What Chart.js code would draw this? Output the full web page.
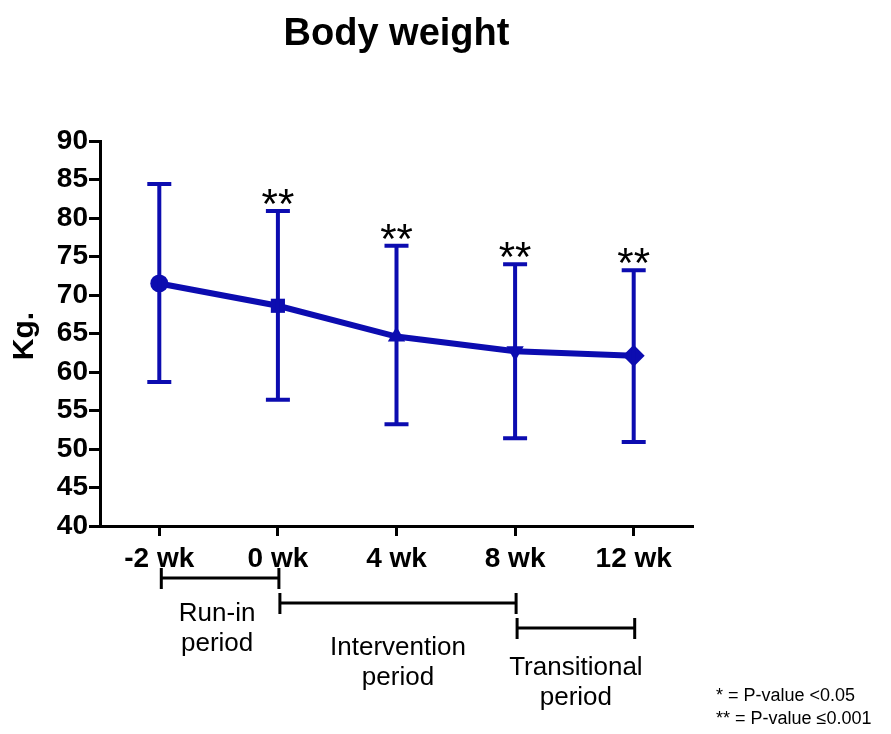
<!DOCTYPE html>
<html>
<head>
<meta charset="utf-8">
<script src="https://cdn.jsdelivr.net/npm/chart.js@4/dist/chart.umd.min.js"></script>
<style>
  html, body { margin: 0; padding: 0; background: #fff; }
  #wrap { width: 891px; height: 734px; position: relative; }
</style>
</head>
<body>
<div id="wrap"><canvas id="c" width="891" height="734"></canvas></div>
<script>
// Body weight over the study timeline (mean with SD bars)
const timepoints = ['-2 wk', '0 wk', '4 wk', '8 wk', '12 wk'];
const meanKg   = [71.5, 68.6, 64.6, 62.7, 62.1];
const upperKg  = [84.4, 80.9, 76.4, 74.0, 73.2];
const lowerKg  = [58.7, 56.4, 53.2, 51.4, 50.9];
const signif   = ['', '**', '**', '**', '**'];
const yTicks   = [40, 45, 50, 55, 60, 65, 70, 75, 80, 85, 90];

// Study periods spanning timepoint indices
const periods = [
  { from: 0, to: 1, level: 0, textGap: 36, lines: ['Run-in', 'period'] },
  { from: 1, to: 3, level: 1, textGap: 45, lines: ['Intervention', 'period'] },
  { from: 3, to: 4, level: 2, textGap: 40, lines: ['Transitional', 'period'] }
];

const footnotes = ['* = P-value <0.05', '** = P-value \u22640.001'];

const BLUE = '#0c0cb0';
const FONT = '"Liberation Sans", Arial, sans-serif';

const errorBars = {
  id: 'errorBars',
  afterDatasetsDraw(chart) {
    const { ctx, scales: { x, y } } = chart;
    ctx.save();
    ctx.strokeStyle = BLUE;
    ctx.lineWidth = 4;
    ctx.lineCap = 'butt';
    timepoints.forEach((t, i) => {
      const px = x.getPixelForValue(i);
      const yt = y.getPixelForValue(upperKg[i]);
      const yb = y.getPixelForValue(lowerKg[i]);
      ctx.beginPath();
      ctx.moveTo(px, yt); ctx.lineTo(px, yb);
      ctx.moveTo(px - 12, yt); ctx.lineTo(px + 12, yt);
      ctx.moveTo(px - 12, yb); ctx.lineTo(px + 12, yb);
      ctx.stroke();
      if (signif[i]) {
        ctx.fillStyle = '#000';
        ctx.font = '42px ' + FONT;
        ctx.textAlign = 'center';
        ctx.textBaseline = 'alphabetic';
        ctx.fillText(signif[i], px, yt + 7);
      }
    });
    ctx.restore();
  }
};

const decorations = {
  id: 'decorations',
  afterDraw(chart) {
    const { ctx, chartArea, scales: { x } } = chart;
    ctx.save();
    // title
    ctx.fillStyle = '#000';
    ctx.font = 'bold 38px ' + FONT;
    ctx.textAlign = 'center';
    ctx.textBaseline = 'alphabetic';
    ctx.fillText('Body weight', (chartArea.left + chartArea.right) / 2, 45);
    // y axis title
    ctx.save();
    ctx.translate(25, 336);
    ctx.rotate(-Math.PI / 2);
    ctx.textBaseline = 'middle';
    ctx.font = 'bold 30px ' + FONT;
    ctx.fillText('Kg.', 0, 0);
    ctx.restore();
    // period brackets
    ctx.strokeStyle = '#000';
    ctx.lineWidth = 3;
    ctx.font = '26px ' + FONT;
    ctx.textBaseline = 'middle';
    periods.forEach(p => {
      const x0 = x.getPixelForValue(p.from) + 2;
      const x1 = x.getPixelForValue(p.to) + 1;
      const yy = 578 + p.level * 25;
      ctx.beginPath();
      ctx.moveTo(x0, yy); ctx.lineTo(x1, yy);
      ctx.moveTo(x0, yy - 10); ctx.lineTo(x0, yy + 11);
      ctx.moveTo(x1, yy - 10); ctx.lineTo(x1, yy + 11);
      ctx.stroke();
      const cx = (x0 + x1) / 2 - (p.level === 0 ? 3 : 0);
      p.lines.forEach((ln, k) => {
        ctx.fillText(ln, cx, yy + p.textGap + k * 30);
      });
    });
    // footnotes
    ctx.font = '18px ' + FONT;
    ctx.textAlign = 'left';
    footnotes.forEach((f, k) => ctx.fillText(f, 716, 696 + k * 23));
    ctx.restore();
  }
};

new Chart(document.getElementById('c'), {
  type: 'line',
  data: {
    labels: timepoints,
    datasets: [{
      data: meanKg,
      borderColor: BLUE,
      backgroundColor: BLUE,
      borderWidth: 6,
      tension: 0,
      pointStyle: ['circle', 'rect', 'triangle', 'triangle', 'rectRot'],
      pointRotation: [0, 0, 0, 180, 0],
      pointRadius: [9, 10, 10, 10, 11],
      pointBorderWidth: 0
    }]
  },
  options: {
    responsive: false,
    animation: false,
    layout: { padding: { top: 141, right: 198, left: 0, bottom: 0 } },
    plugins: { legend: { display: false }, tooltip: { enabled: false }, title: { display: false } },
    scales: {
      x: {
        type: 'category',
        offset: true,
        afterFit(s) { s.height = 208; },
        border: { display: true, color: '#000', width: 3 },
        grid: { display: true, drawOnChartArea: false, drawTicks: true, tickLength: 10, tickWidth: 3, color: '#000' },
        ticks: { color: '#000', font: { family: FONT, size: 28, weight: 'bold' }, padding: 6, maxRotation: 0 }
      },
      y: {
        min: 40, max: 90,
        afterFit(s) { s.width = 100; },
        afterBuildTicks(s) { s.ticks = yTicks.map(v => ({ value: v })); },
        border: { display: true, color: '#000', width: 3 },
        grid: { display: true, drawOnChartArea: false, drawTicks: true, tickLength: 11, tickWidth: 3, color: '#000' },
        ticks: { color: '#000', font: { family: FONT, size: 28, weight: 'bold' }, padding: 1 }
      }
    }
  },
  plugins: [errorBars, decorations]
});
</script>
</body>
</html>
